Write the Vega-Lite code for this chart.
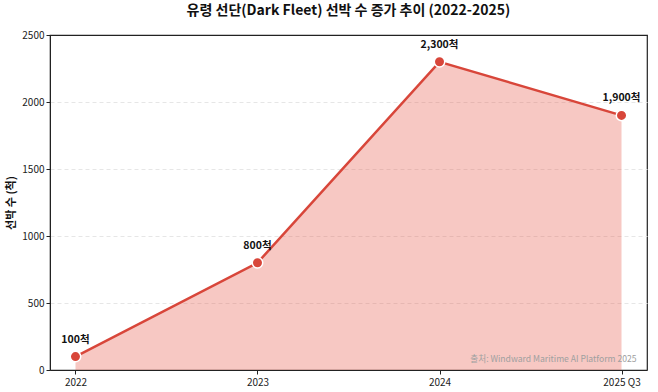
{
  "$schema": "https://vega.github.io/schema/vega-lite/v6.json",
  "width": 597,
  "height": 335,
  "autosize": "none",
  "padding": {"left": 50, "top": 35, "right": 11, "bottom": 22},
  "background": "white",
  "view": {"stroke": "#222", "strokeWidth": 1.2, "fill": null},
  "title": {"text": "유령 선단(Dark Fleet) 선박 수 증가 추이 (2022-2025)", "fontSize": 14, "fontWeight": "bold", "font": "Noto Sans CJK KR", "color": "#111", "offset": 12},
  "config": {
    "font": "Noto Sans CJK KR",
    "axis": {"labelFont": "Noto Sans CJK KR", "titleFont": "Noto Sans CJK KR", "labelColor": "#222", "labelFontSize": 10, "domainColor": "#222", "tickColor": "#222"}
  },
  "data": {"values": [
    {"year": "2022", "count": 100, "label": "100척"},
    {"year": "2023", "count": 800, "label": "800척"},
    {"year": "2024", "count": 2300, "label": "2,300척"},
    {"year": "2025 Q3", "count": 1900, "label": "1,900척"}
  ]},
  "encoding": {
    "x": {"field": "year", "type": "ordinal", "sort": null, "scale": {"type": "point", "padding": 0.14},
      "axis": {"title": null, "labelAngle": 0, "grid": false, "tickSize": 4, "labelPadding": 3}},
    "y": {"field": "count", "type": "quantitative", "scale": {"domain": [0, 2500], "nice": false},
      "axis": {"title": "선박 수 (척)", "format": "d", "titleFontSize": 11, "titleFontWeight": "bold", "titleColor": "#111", "titlePadding": 5, "values": [0, 500, 1000, 1500, 2000, 2500], "grid": true,
        "gridDash": {"condition": {"test": "datum.value >= 2500", "value": []}, "value": [4, 3]},
        "gridColor": {"condition": {"test": "datum.value >= 2500", "value": "#222"}, "value": "#e6e6e6"},
        "tickSize": 4}}
  },
  "layer": [
    {"mark": {"type": "area", "color": "#e8574a", "opacity": 0.33}},
    {"mark": {"type": "line", "color": "#d8463a", "strokeWidth": 2.5}},
    {"mark": {"type": "point", "filled": true, "size": 110, "color": "#d8463a", "stroke": "white", "strokeWidth": 1.5, "opacity": 1}},
    {"mark": {"type": "text", "fontWeight": "bold", "fontSize": 10.5, "color": "#111", "dy": -17, "baseline": "middle"}, "encoding": {"text": {"field": "label"}}},
    {"data": {"values": [{"year": "2025 Q3", "count": 80, "src": "출처: Windward Maritime AI Platform 2025"}]},
     "mark": {"type": "text", "align": "right", "baseline": "middle", "dx": 15, "fontSize": 8.6, "color": "#a0a0a0"},
     "encoding": {"text": {"field": "src"}}}
  ]
}
